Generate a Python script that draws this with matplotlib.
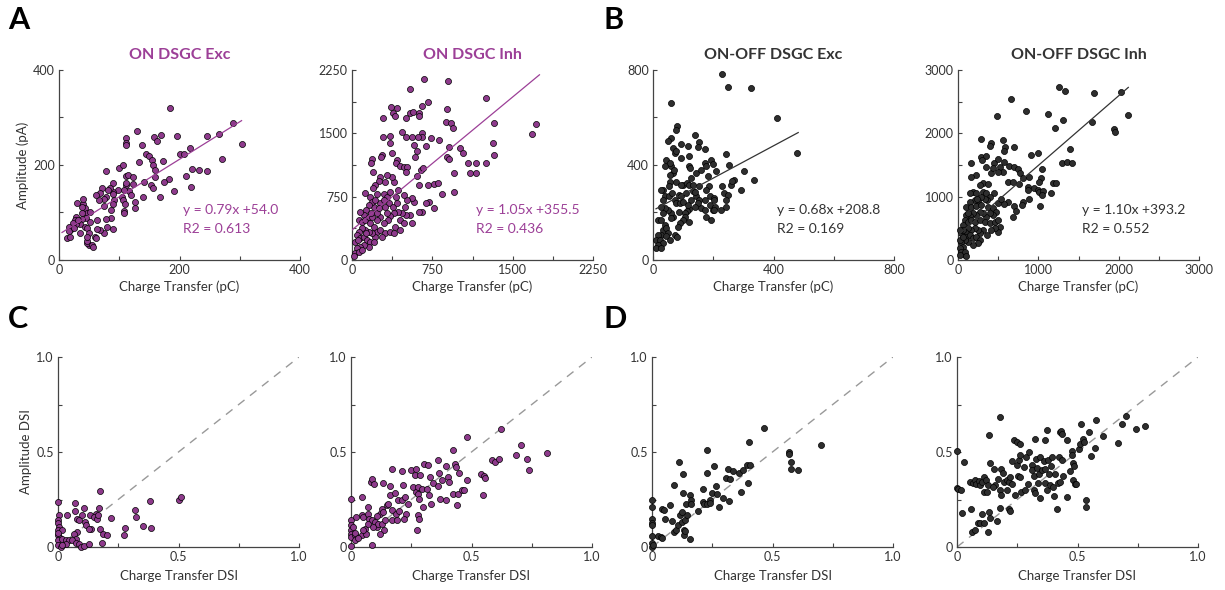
import numpy as np
import matplotlib
matplotlib.use('Agg')
import matplotlib.pyplot as plt

plt.rcParams['font.family'] = ['Lato', 'DejaVu Sans']

PURPLE = '#9c3f97'
PURPLE_FILL = '#8e3a8c'
DARK_FILL = '#2e2e2e'
TXT = '#333333'

# ---- panel A, ON DSGC Exc: charge (pC) vs amplitude (pA)
on_exc_q = [184, 129, 288, 303, 266, 245, 196, 170, 158, 162, 111, 111, 112, 137, 145, 150, 154, 172,
            132, 156, 160, 159, 153, 156, 141, 201, 207, 218, 221, 210, 233, 246, 270, 219, 191, 182,
            175, 168, 140, 126, 126, 78, 100, 106, 112, 115, 123, 112, 111, 117, 120, 123, 108, 104,
            107, 109, 108, 108, 90, 98, 90, 89, 91, 90, 85, 81, 78, 71, 68, 75, 66, 61, 75, 87, 87,
            89, 79, 78, 75, 68, 63, 63, 59, 50, 46, 47, 54, 56, 40, 43, 47, 51, 45, 40, 38, 39, 38,
            35, 43, 47, 51, 30, 28, 27, 29, 23, 21, 18, 16, 16, 13, 18, 25, 32, 35, 50, 46, 61]
on_exc_amp = [319, 272, 288, 244, 265, 260, 262, 263, 258, 251, 256, 247, 242, 242, 223, 218, 211, 209,
              206, 200, 190, 175, 158, 151, 165, 223, 223, 235, 191, 177, 190, 188, 213, 153, 145, 171,
              165, 132, 132, 123, 109, 188, 193, 200, 177, 179, 175, 158, 163, 146, 137, 161, 147, 133,
              126, 118, 104, 98, 163, 147, 144, 139, 126, 118, 151, 147, 133, 151, 140, 128, 126, 137,
              114, 105, 88, 65, 70, 86, 56, 63, 84, 65, 48, 32, 36, 39, 32, 28, 117, 109, 98, 102, 88,
              128, 112, 98, 86, 76, 70, 67, 79, 119, 91, 84, 76, 77, 67, 63, 70, 60, 46, 48, 67, 84, 56,
              56, 49, 46]

# ---- ON DSGC Inh
on_inh_q = [676, 894, 537, 1251, 658, 708, 360, 416, 382, 403, 285, 506, 543, 574, 621, 630, 891, 875,
            922, 940, 1322, 1685, 1722, 1319, 1325, 1009, 1040, 1086, 1154, 1247, 1102, 1154, 956, 953,
            906, 884, 909, 816, 735, 695, 654, 651, 617, 580, 561, 466, 506, 357, 285, 357, 369, 279,
            270, 186, 180, 195, 419, 410, 450, 481, 509, 503, 590, 611, 605, 645, 667, 624, 714, 770,
            807, 838, 770, 720, 692, 649, 630, 583, 559, 562, 543, 506, 450, 465, 496, 512, 481, 431,
            410, 388, 372, 326, 310, 264, 248, 217, 195, 124, 164, 233, 295, 326, 357, 341, 379, 419,
            434, 388, 357, 332, 295, 264, 233, 208, 186, 155, 133, 109, 71, 62, 93, 124, 155, 171, 202,
            233, 264, 310, 279, 217, 186, 155, 124, 93, 62, 47, 78, 109, 140, 171, 202, 155, 109, 78,
            47, 31, 62, 93, 16, 31, 53, 133, 357, 403, 450, 481, 326, 264, 310, 248, 295, 388, 233,
            186, 217, 177]
on_inh_amp = [2143, 2120, 2025, 1914, 1824, 1875, 1816, 1804, 1737, 1705, 1685, 1678, 1737, 1749, 1737,
              1705, 1788, 1638, 1626, 1567, 1618, 1488, 1606, 1381, 1243, 1322, 1271, 1145, 1152, 1152,
              1026, 1026, 1034, 809, 1334, 1224, 1192, 1421, 1441, 1354, 1508, 1460, 1460, 1362, 1460,
              1520, 1453, 1468, 1460, 1381, 1271, 1243, 1224, 1192, 1152, 1046, 1184, 1145, 1117, 1105,
              1105, 1046, 1224, 1295, 995, 1066, 1085, 888, 888, 896, 908, 778, 612, 691, 679, 572, 564,
              691, 730, 442, 533, 533, 474, 553, 632, 710, 770, 829, 750, 928, 987, 1007, 928, 987, 935,
              888, 849, 789, 750, 781, 781, 750, 809, 671, 632, 671, 572, 553, 521, 474, 434, 513, 553,
              632, 691, 651, 592, 533, 572, 474, 454, 474, 513, 434, 395, 336, 355, 316, 276, 276, 316,
              336, 355, 375, 336, 296, 257, 276, 237, 217, 217, 158, 178, 158, 138, 79, 99, 118, 47, 217,
              237, 316, 336, 395, 355, 434, 553, 671, 632, 612, 710, 316, 474, 513, 710, 553]

# ---- panel B, ON-OFF DSGC Exc
oo_exc_q = [230, 249, 326, 61, 410, 478, 79, 77, 138, 152, 150, 61, 50, 66, 94, 116, 243, 251, 174, 92,
            121, 119, 124, 72, 77, 44, 39, 61, 55, 66, 55, 69, 77, 99, 94, 112, 57, 52, 33, 25, 39, 33,
            53, 64, 72, 86, 94, 77, 88, 101, 108, 121, 127, 132, 143, 160, 171, 177, 182, 186, 177,
            188, 171, 160, 173, 188, 199, 207, 201, 177, 193, 204, 193, 199, 210, 230, 237, 249, 241,
            259, 270, 262, 226, 204, 292, 303, 336, 243, 143, 154, 149, 138, 121, 127, 112, 105, 105,
            121, 99, 88, 83, 68, 61, 50, 39, 33, 28, 17, 28, 39, 33, 44, 50, 28, 17, 11, 22, 33, 17,
            11, 28, 44, 72, 81, 55, 61, 86, 116, 132, 138, 154]
oo_exc_amp = [782, 730, 723, 659, 597, 451, 563, 549, 528, 496, 476, 514, 500, 472, 490, 479, 446, 401,
              468, 430, 437, 394, 387, 451, 458, 423, 397, 397, 408, 366, 359, 380, 327, 317, 317, 324,
              327, 310, 296, 296, 268, 254, 268, 282, 254, 275, 268, 240, 240, 246, 282, 317, 345, 317,
              366, 380, 408, 394, 352, 310, 296, 268, 254, 218, 211, 232, 211, 225, 261, 180, 169, 254,
              423, 406, 373, 310, 282, 275, 254, 317, 338, 331, 211, 211, 296, 373, 338, 225, 268, 254,
              240, 225, 214, 254, 208, 197, 183, 162, 169, 155, 141, 183, 197, 211, 218, 197, 225, 169,
              169, 148, 127, 134, 113, 106, 106, 85, 85, 70, 63, 49, 49, 99, 106, 96, 85, 176, 204, 232,
              289, 285, 310]

# ---- ON-OFF DSGC Inh
oo_inh_q = [1262, 1337, 1688, 2028, 2115, 662, 484, 848, 1126, 1312, 1204, 1663, 1945, 1957, 281, 559,
            406, 401, 588, 703, 567, 910, 993, 1395, 1296, 1357, 1419, 166, 290, 343, 302, 343, 447,
            497, 517, 559, 501, 641, 695, 745, 766, 621, 683, 757, 815, 890, 1047, 1035, 1014, 1184,
            869, 869, 952, 993, 1014, 1063, 1043, 1159, 1026, 882, 815, 799, 703, 716, 683, 621, 571,
            497, 538, 443, 310, 372, 269, 414, 228, 166, 186, 145, 228, 310, 352, 393, 360, 331, 290,
            248, 207, 145, 103, 166, 228, 290, 372, 434, 476, 434, 393, 352, 310, 269, 228, 186, 145,
            103, 83, 62, 124, 166, 207, 269, 331, 393, 455, 497, 517, 497, 455, 414, 360, 310, 269,
            248, 207, 166, 124, 83, 41, 103, 145, 186, 228, 269, 248, 186, 124, 83, 41, 21, 62, 21,
            41, 83, 83, 103, 29, 62, 62, 21, 124, 236, 567, 434, 1221]
oo_inh_amp = [2726, 2674, 2632, 2658, 2289, 2537, 2279, 2353, 2305, 2210, 2089, 2174, 2063, 2026, 1905,
              1895, 1853, 1800, 1779, 1779, 1721, 1658, 1684, 1753, 1537, 1542, 1537, 1526, 1632, 1642,
              1579, 1474, 1526, 1589, 1474, 1395, 1384, 1484, 1474, 1432, 1379, 1237, 1237, 1200, 1289,
              1316, 1432, 1289, 1237, 1221, 1147, 1105, 1131, 1105, 1079, 1095, 1026, 1063, 858, 958,
              921, 868, 853, 779, 684, 921, 884, 895, 958, 1053, 1210, 1200, 1184, 1368, 1342, 1316, 1079,
              1053, 1063, 1079, 1053, 1000, 947, 958, 1000, 937, 947, 921, 842, 842, 853, 868, 842, 816,
              763, 710, 737, 684, 737, 763, 710, 737, 695, 710, 632, 553, 605, 632, 605, 632, 605, 579,
              605, 632, 526, 447, 500, 474, 395, 474, 421, 474, 500, 474, 500, 447, 421, 368, 395, 342,
              368, 316, 263, 237, 289, 316, 289, 316, 211, 184, 132, 79, 132, 63, 79, 368, 474, 474, 737,
              968, 1553, 1447, 1221]

# ---- panel C, DSI (charge transfer vs amplitude)
on_exc_dsi_q = [0.174, 0.001, 0.004, 0.001, 0.001, 0.004, 0.001, 0.001, 0.007, 0.001, 0.001, 0.011,
                0.015, 0.018, 0.039, 0.032, 0.045, 0.032, 0.070, 0.070, 0.080, 0.087, 0.098, 0.109,
                0.112, 0.117, 0.131, 0.135, 0.128, 0.156, 0.149, 0.163, 0.167, 0.172, 0.176, 0.186,
                0.204, 0.218, 0.183, 0.080, 0.066, 0.073, 0.059, 0.076, 0.087, 0.094, 0.107, 0.128,
                0.273, 0.280, 0.318, 0.324, 0.351, 0.383, 0.384, 0.503, 0.511, 0.018, 0.0]
on_exc_dsi_a = [0.295, 0.235, 0.170, 0.140, 0.126, 0.105, 0.088, 0.061, 0.049, 0.035, 0.009, 0.0,
                0.088, 0.044, 0.167, 0.035, 0.039, 0.018, 0.232, 0.188, 0.149, 0.140, 0.170, 0.207,
                0.132, 0.114, 0.167, 0.096, 0.096, 0.175, 0.158, 0.149, 0.167, 0.207, 0.096, 0.070,
                0.061, 0.154, 0.021, 0.079, 0.070, 0.044, 0.039, 0.021, 0.018, 0.0, 0.004, 0.018,
                0.065, 0.100, 0.196, 0.158, 0.112, 0.242, 0.098, 0.249, 0.263, 0.009, 0.074]

on_inh_dsi_q = [0.0, 0.0, 0.0, 0.0, 0.0, 0.0, 0.0, 0.010, 0.017, 0.019, 0.017, 0.044, 0.047, 0.051,
                0.044, 0.058, 0.061, 0.069, 0.072, 0.076, 0.086, 0.072, 0.083, 0.088, 0.097, 0.087,
                0.099, 0.106, 0.113, 0.120, 0.127, 0.131, 0.134, 0.135, 0.127, 0.148, 0.162, 0.162,
                0.171, 0.169, 0.171, 0.182, 0.185, 0.189, 0.196, 0.210, 0.214, 0.210, 0.224, 0.227,
                0.221, 0.235, 0.251, 0.258, 0.265, 0.268, 0.268, 0.276, 0.279, 0.283, 0.272, 0.276,
                0.282, 0.286, 0.293, 0.304, 0.300, 0.314, 0.320, 0.325, 0.328, 0.334, 0.341, 0.359,
                0.362, 0.367, 0.369, 0.376, 0.394, 0.396, 0.403, 0.406, 0.424, 0.424, 0.431, 0.434,
                0.438, 0.445, 0.448, 0.459, 0.470, 0.481, 0.483, 0.539, 0.550, 0.558, 0.546, 0.587,
                0.597, 0.613, 0.624, 0.685, 0.704, 0.729, 0.739, 0.815, 0.017, 0.030, 0.048, 0.093,
                0.106, 0.141, 0.120, 0.155, 0.199]
on_inh_dsi_a = [0.254, 0.140, 0.114, 0.091, 0.070, 0.053, 0.005, 0.105, 0.061, 0.158, 0.074, 0.263,
                0.167, 0.158, 0.061, 0.096, 0.070, 0.211, 0.175, 0.149, 0.140, 0.123, 0.342, 0.360,
                0.330, 0.012, 0.132, 0.105, 0.123, 0.175, 0.202, 0.337, 0.184, 0.088, 0.123, 0.219,
                0.272, 0.319, 0.412, 0.193, 0.140, 0.284, 0.175, 0.140, 0.249, 0.400, 0.328, 0.246,
                0.263, 0.175, 0.149, 0.228, 0.403, 0.316, 0.377, 0.412, 0.289, 0.316, 0.281, 0.251,
                0.088, 0.167, 0.146, 0.377, 0.307, 0.439, 0.211, 0.307, 0.430, 0.272, 0.368, 0.228,
                0.337, 0.319, 0.456, 0.391, 0.254, 0.351, 0.426, 0.246, 0.368, 0.342, 0.509, 0.281,
                0.439, 0.421, 0.219, 0.277, 0.389, 0.302, 0.298, 0.579, 0.354, 0.382, 0.374, 0.365,
                0.275, 0.456, 0.446, 0.465, 0.623, 0.486, 0.539, 0.465, 0.407, 0.496, 0.035, 0.049,
                0.088, 0.105, 0.161, 0.140, 0.070, 0.228, 0.189]

# ---- panel D, ON-OFF DSI
oo_exc_dsi_q = [0.0, 0.0, 0.0, 0.0, 0.0, 0.0, 0.0, 0.0, 0.004, 0.023, 0.037, 0.041, 0.041, 0.048,
                0.055, 0.076, 0.083, 0.090, 0.092, 0.101, 0.106, 0.113, 0.117, 0.124, 0.128, 0.128,
                0.131, 0.131, 0.138, 0.142, 0.145, 0.156, 0.159, 0.161, 0.163, 0.138, 0.124, 0.189,
                0.211, 0.211, 0.214, 0.230, 0.230, 0.230, 0.239, 0.248, 0.259, 0.266, 0.269, 0.276,
                0.241, 0.294, 0.308, 0.314, 0.320, 0.324, 0.335, 0.361, 0.370, 0.379, 0.393, 0.397,
                0.404, 0.407, 0.466, 0.570, 0.570, 0.577, 0.575, 0.604, 0.701]
oo_exc_dsi_a = [0.249, 0.211, 0.146, 0.126, 0.114, 0.056, 0.021, 0.0, 0.009, 0.060, 0.053, 0.049,
                0.202, 0.193, 0.149, 0.219, 0.135, 0.079, 0.328, 0.088, 0.114, 0.447, 0.167, 0.132,
                0.386, 0.284, 0.088, 0.061, 0.140, 0.228, 0.167, 0.272, 0.044, 0.246, 0.225, 0.084,
                0.184, 0.188, 0.307, 0.237, 0.225, 0.509, 0.389, 0.228, 0.249, 0.284, 0.425, 0.319,
                0.281, 0.211, 0.232, 0.258, 0.363, 0.412, 0.240, 0.356, 0.400, 0.389, 0.289, 0.407,
                0.432, 0.339, 0.553, 0.433, 0.626, 0.500, 0.488, 0.447, 0.412, 0.404, 0.535]

oo_inh_dsi_q = [0.0, 0.0, 0.003, 0.017, 0.028, 0.021, 0.055, 0.058, 0.066, 0.076, 0.080, 0.090, 0.097,
                0.104, 0.111, 0.113, 0.119, 0.124, 0.127, 0.131, 0.138, 0.152, 0.159, 0.149, 0.169,
                0.180, 0.180, 0.183, 0.184, 0.189, 0.194, 0.207, 0.207, 0.214, 0.221, 0.228, 0.228,
                0.235, 0.242, 0.249, 0.249, 0.252, 0.256, 0.263, 0.263, 0.263, 0.267, 0.279, 0.288,
                0.284, 0.293, 0.299, 0.311, 0.311, 0.318, 0.321, 0.324, 0.325, 0.329, 0.332, 0.336,
                0.339, 0.343, 0.346, 0.353, 0.360, 0.364, 0.367, 0.367, 0.373, 0.373, 0.378, 0.382,
                0.385, 0.390, 0.394, 0.398, 0.404, 0.408, 0.415, 0.418, 0.422, 0.426, 0.429, 0.432,
                0.434, 0.436, 0.440, 0.456, 0.456, 0.467, 0.477, 0.479, 0.480, 0.481, 0.487, 0.491,
                0.495, 0.505, 0.512, 0.516, 0.523, 0.526, 0.537, 0.537, 0.546, 0.557, 0.574, 0.577,
                0.606, 0.668, 0.686, 0.703, 0.743, 0.781, 0.062, 0.076, 0.086, 0.097, 0.104, 0.111,
                0.127, 0.131, 0.136, 0.166, 0.180, 0.217, 0.221]
oo_inh_dsi_a = [0.505, 0.312, 0.307, 0.302, 0.447, 0.179, 0.342, 0.198, 0.337, 0.351, 0.330, 0.347,
                0.325, 0.342, 0.289, 0.368, 0.351, 0.289, 0.325, 0.588, 0.444, 0.412, 0.325, 0.316,
                0.360, 0.684, 0.298, 0.272, 0.412, 0.389, 0.342, 0.351, 0.302, 0.342, 0.368, 0.453,
                0.333, 0.561, 0.272, 0.553, 0.430, 0.372, 0.460, 0.544, 0.482, 0.368, 0.289, 0.421,
                0.474, 0.298, 0.333, 0.500, 0.430, 0.404, 0.372, 0.298, 0.284, 0.570, 0.465, 0.418,
                0.339, 0.386, 0.474, 0.258, 0.404, 0.453, 0.337, 0.565, 0.412, 0.614, 0.302, 0.456,
                0.386, 0.325, 0.426, 0.474, 0.316, 0.267, 0.386, 0.202, 0.337, 0.474, 0.342, 0.605,
                0.611, 0.593, 0.456, 0.372, 0.561, 0.263, 0.400, 0.505, 0.482, 0.354, 0.442, 0.425,
                0.333, 0.333, 0.518, 0.540, 0.646, 0.570, 0.553, 0.249, 0.211, 0.605, 0.477, 0.523,
                0.670, 0.582, 0.547, 0.649, 0.688, 0.623, 0.635, 0.079, 0.091, 0.126, 0.126, 0.175,
                0.126, 0.079, 0.184, 0.154, 0.137, 0.205, 0.202, 0.189]

# fits printed on the panels (slope, intercept, R2)
fits = {
    'on_exc': (0.79, 54.0, 0.613),
    'on_inh': (1.05, 355.5, 0.436),
    'oo_exc': (0.68, 208.8, 0.169),
    'oo_inh': (1.10, 393.2, 0.552),
}

W, H = 1225, 590
fig = plt.figure(figsize=(W / 100, H / 100), dpi=100)

lefts = [59, 352, 653, 958]
aw = 241
ah = 190


def make_ax(left_px, top_px):
    ax = fig.add_axes([left_px / W, 1 - (top_px + ah) / H, aw / W, ah / H])
    for s in ['top', 'right']:
        ax.spines[s].set_visible(False)
    for s in ['left', 'bottom']:
        ax.spines[s].set_color('#444444')
        ax.spines[s].set_linewidth(0.9)
    ax.tick_params(direction='in', length=3, width=0.8, colors='#444444',
                   labelcolor=TXT, labelsize=9, pad=3)
    ax.tick_params(which='minor', direction='in', length=3, width=0.8, colors='#444444')
    return ax


def fmt(v):
    if isinstance(v, float) and v != 0:
        return f'{v:.1f}'
    return f'{int(v)}'


def set_ticks(ax, major, minor):
    ax.set_xlim(major[0], major[-1])
    ax.set_ylim(major[0], major[-1])
    ax.set_xticks(major)
    ax.set_yticks(major)
    ax.set_xticklabels([fmt(v) for v in major])
    ax.set_yticklabels([fmt(v) for v in major])
    ax.set_xticks(minor, minor=True)
    ax.set_yticks(minor, minor=True)


top_panels = [
    (on_exc_q, on_exc_amp, 'on_exc', 'ON DSGC Exc', PURPLE, PURPLE_FILL,
     [0, 200, 400], [100, 300], (5, 303)),
    (on_inh_q, on_inh_amp, 'on_inh', 'ON DSGC Inh', PURPLE, PURPLE_FILL,
     [0, 750, 1500, 2250], [375, 1125, 1875], (0, 1750)),
    (oo_exc_q, oo_exc_amp, 'oo_exc', 'ON-OFF DSGC Exc', '#333333', DARK_FILL,
     [0, 400, 800], [200, 600], (10, 482)),
    (oo_inh_q, oo_inh_amp, 'oo_inh', 'ON-OFF DSGC Inh', '#333333', DARK_FILL,
     [0, 1000, 2000, 3000], [500, 1500, 2500], (0, 2120)),
]

for i, (xq, ya, key, title, tcol, fcol, major, minor, xr) in enumerate(top_panels):
    ax = make_ax(lefts[i], 70)
    set_ticks(ax, major, minor)
    ax.scatter(xq, ya, s=19, c=fcol, edgecolors='black', linewidths=0.5, zorder=3, clip_on=False)
    m, b, r2 = fits[key]
    xx = np.array(xr, dtype=float)
    ax.plot(xx, m * xx + b, color=tcol, lw=0.9, zorder=4)
    ax.set_title(title, color=tcol, fontsize=11.5, fontweight='bold', pad=8)
    ax.set_xlabel('Charge Transfer (pC)', color=TXT, fontsize=9.5, labelpad=3)
    if i == 0:
        ax.set_ylabel('Amplitude (pA)', color=TXT, fontsize=9.5, labelpad=3)
    top = major[-1]
    ax.text(0.515 * top, 0.24 * top, f'y = {m:.2f}x +{b:.1f}', color=tcol, fontsize=10)
    ax.text(0.515 * top, 0.14 * top, f'R2 = {r2:.3f}', color=tcol, fontsize=10)

bottom_panels = [
    (on_exc_dsi_q, on_exc_dsi_a, PURPLE_FILL),
    (on_inh_dsi_q, on_inh_dsi_a, PURPLE_FILL),
    (oo_exc_dsi_q, oo_exc_dsi_a, DARK_FILL),
    (oo_inh_dsi_q, oo_inh_dsi_a, DARK_FILL),
]

for i, (xq, ya, fcol) in enumerate(bottom_panels):
    ax = make_ax(lefts[i] - 1, 357)
    set_ticks(ax, [0, 0.5, 1.0], [0.25, 0.75])
    ax.plot([0, 1], [0, 1], color='#999999', lw=1, ls=(0, (6, 5)), zorder=2)
    ax.scatter(xq, ya, s=19, c=fcol, edgecolors='black', linewidths=0.5, zorder=3, clip_on=False)
    ax.set_xlabel('Charge Transfer DSI', color=TXT, fontsize=9.5, labelpad=5)
    if i == 0:
        ax.set_ylabel('Amplitude DSI', color=TXT, fontsize=9.5, labelpad=3)

for lbl, x, y in [('A', 8, 6), ('B', 603, 6), ('C', 8, 305), ('D', 603, 305)]:
    fig.text(x / W, 1 - y / H, lbl, fontsize=22, fontweight='bold', va='top', ha='left', color='black')

fig.savefig('out.png', dpi=100)
